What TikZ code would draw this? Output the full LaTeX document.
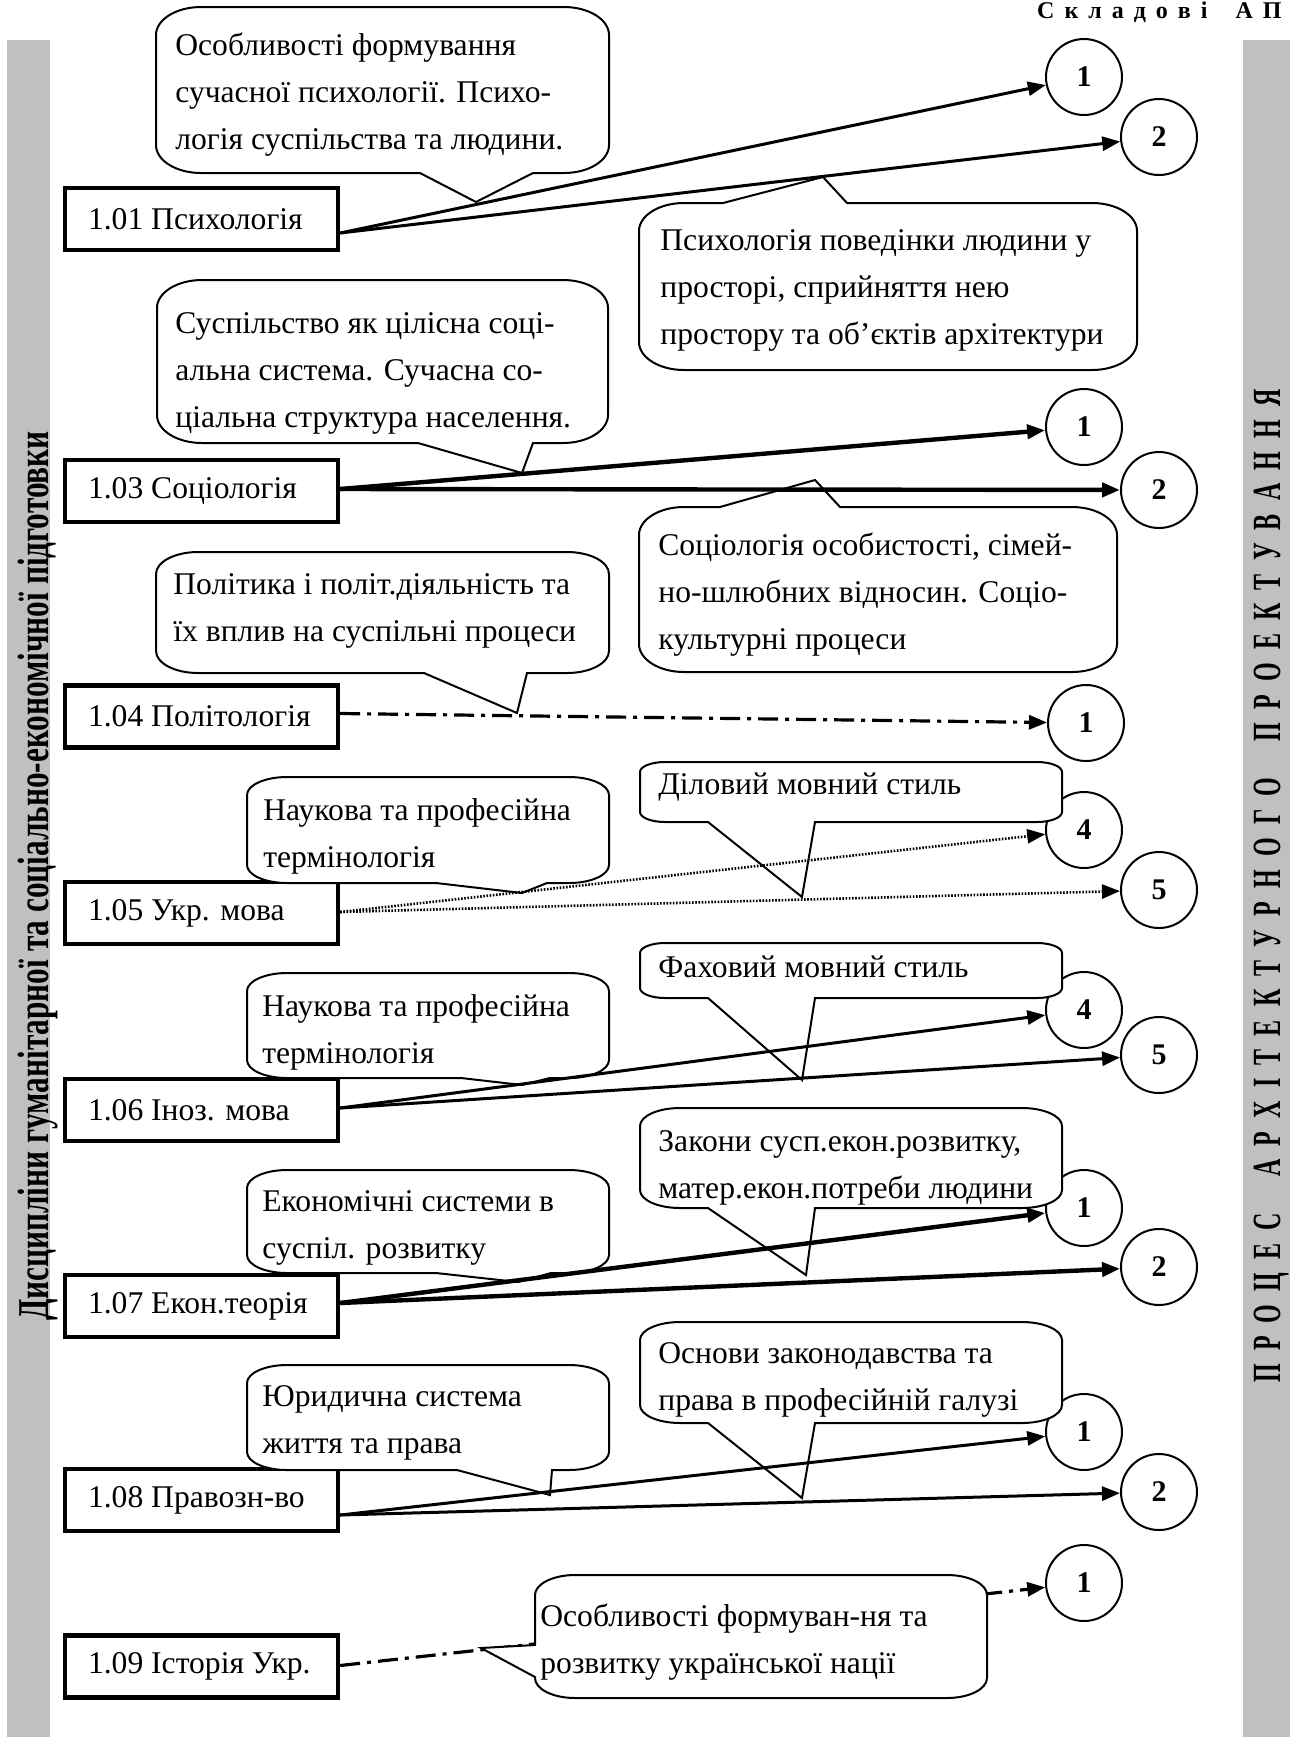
\documentclass[tikz,border=0pt]{standalone}
\usepackage{fontspec}
\setmainfont{Liberation Serif}
\newfontfamily\condA[FakeStretch=0.71]{Liberation Serif}
\newfontfamily\condB[FakeStretch=0.6]{Liberation Serif}
\usetikzlibrary{arrows.meta,calc}
\definecolor{barcol}{RGB}{192,192,192}
\newcommand\bodyfont{\fontsize{15.8}{23.5}\selectfont}
\newcommand\gapL{\hspace{6.6pt}}
\newcommand\gapW{\hspace{18pt}}
\newcommand\hg{\hspace{5pt}}
% #1 x1, #2 y1, #3 x2, #4 y2, #5 rx, #6 ry, #7 top wedge, #8 bottom wedge, #9 left wedge
\newcommand\bubble[9]{%
  \filldraw[bub] ({#1+#5},#2) #7 -- ({#3-#5},#2)
    .. controls ({#3-0.448*#5},#2) and (#3,{#2+0.448*#6}) .. (#3,{#2+#6})
    -- (#3,{#4-#6})
    .. controls (#3,{#4-0.448*#6}) and ({#3-0.448*#5},#4) .. ({#3-#5},#4)
    #8 -- ({#1+#5},#4)
    .. controls ({#1+0.448*#5},#4) and (#1,{#4-0.448*#6}) .. (#1,{#4-#6})
    #9 -- (#1,{#2+#6})
    .. controls (#1,{#2+0.448*#6}) and ({#1+0.448*#5},#2) .. ({#1+#5},#2) -- cycle;}
\tikzset{
  dbox/.style={draw, line width=2.2pt, minimum width=136.5pt, minimum height=31pt,
    inner xsep=11.5pt, inner ysep=0pt, font=\bodyfont},
  num/.style={circle, draw, line width=1pt, minimum size=38pt, inner sep=0pt,
    font=\bfseries\fontsize{15}{15}\selectfont},
  bub/.style={draw, fill=white, line width=1pt, line join=miter},
  ctext/.style={anchor=west, align=left, inner sep=0pt, font=\bodyfont},
  tipA/.style={-{Triangle[length=9pt,width=7pt]}},
  arr/.style={tipA, line width=1.5pt},
  arrb/.style={tipA, line width=2.2pt},
  arrdot/.style={tipA, line width=1.3pt, dash pattern=on 0.8pt off 0.8pt},
  arrdd/.style={tipA, line width=1.6pt, dash pattern=on 10pt off 3.5pt on 2pt off 3.5pt},
}
\begin{document}
\begin{tikzpicture}[x=0.5pt,y=-0.5pt]
\useasboundingbox (0,0) rectangle (1290,1737);
\fill[white] (0,0) rectangle (1290,1737);
% side bars
\fill[barcol] (7,40) rectangle (50,1737);
\fill[barcol] (1243,40) rectangle (1290,1737);
\node[rotate=90, anchor=base, inner sep=0pt, font=\condA\bfseries\fontsize{22}{22}\selectfont] (vl) at (48,876)
  {Дисципліни гуманітарної та соціально-економічної підготовки};
\node[rotate=90, anchor=base, inner sep=0pt, font=\condB\bfseries\fontsize{20}{20}\selectfont] (vr) at (1280,886)
  {П\gapL Р\gapL О\gapL Ц\gapL Е\gapL С\gapW А\gapL Р\gapL Х\gapL І\gapL Т\gapL Е\gapL К\gapL Т\gapL У\gapL Р\gapL Н\gapL О\gapL Г\gapL О\gapW П\gapL Р\gapL О\gapL Е\gapL К\gapL Т\gapL У\gapL В\gapL А\gapL Н\gapL Н\gapL Я};
% header
\node[anchor=base east, inner sep=0pt, font=\bfseries\fontsize{12}{14}\selectfont] (hdr) at (1282,18)
  {С\hg к\hg л\hg а\hg д\hg о\hg в\hg і\hspace{14pt}А\hg П};
% circles
\node[num] (c11) at (1084,77) {1};
\node[num] (c12) at (1159,137) {2};
\node[num] (c31) at (1084,427) {1};
\node[num] (c32) at (1159,490) {2};
\node[num] (c41) at (1086,723) {1};
\node[num] (c54) at (1084,830) {4};
\node[num] (c55) at (1159,890) {5};
\node[num] (c64) at (1084,1010) {4};
\node[num] (c65) at (1159,1055) {5};
\node[num] (c71) at (1084,1208) {1};
\node[num] (c72) at (1159,1267) {2};
\node[num] (c81) at (1084,1432) {1};
\node[num] (c82) at (1159,1492) {2};
\node[num] (c91) at (1084,1583) {1};
% discipline boxes
\node[dbox] (b101) at (201.5,219) {\makebox[113.5pt][l]{1.01 Психологія}};
\node[dbox] (b103) at (201.5,491) {\makebox[113.5pt][l]{1.03 Соціологія}};
\node[dbox] (b104) at (201.5,716.5) {\makebox[113.5pt][l]{1.04 Політологія}};
\node[dbox] (b105) at (201.5,913) {\makebox[113.5pt][l]{1.05 Укр. мова}};
\node[dbox] (b106) at (201.5,1110) {\makebox[113.5pt][l]{1.06 Іноз. мова}};
\node[dbox] (b107) at (201.5,1306) {\makebox[113.5pt][l]{1.07 Екон.теорія}};
\node[dbox] (b108) at (201.5,1500) {\makebox[113.5pt][l]{1.08 Правозн-во}};
\node[dbox] (b109) at (201.5,1666.5) {\makebox[113.5pt][l]{1.09 Історія Укр.}};
% callouts
\bubble{156}{7}{609}{173}{45}{28}{}{-- (533,173) -- (476,202) -- (420,173)}{}
\node[ctext] (t1) at (175,95) {Особливості формування\\сучасної психології. Психо-\\логія суспільства та людини.};
\bubble{639}{203}{1137}{370}{45}{28}{-- (723,203) -- (823,177) -- (847,203)}{}{}
\node[ctext] (t2) at (660,290) {Психологія поведінки людини у\\просторі, сприйняття нею\\простору та об’єктів архітектури};
\bubble{157}{280}{608}{443}{45}{28}{}{-- (533,443) -- (522,473) -- (418,443)}{}
\node[ctext] (t3) at (175,373) {Суспільство як цілісна соці-\\альна система. Сучасна со-\\ціальна структура населення.};
\bubble{639}{507}{1117}{672}{45}{28}{-- (720,507) -- (815,480) -- (840,507)}{}{}
\node[ctext] (t4) at (658,595) {Соціологія особистості, сімей-\\но-шлюбних відносин. Соціо-\\культурні процеси};
\bubble{156}{552}{609}{673}{42}{22}{}{-- (527,673) -- (517,713) -- (424,673)}{}
\node[ctext] (t5) at (173,611) {Політика і політ.діяльність та\\їх вплив на суспільні процеси};
\bubble{247}{777}{609}{883}{40}{18}{}{-- (547,883) -- (522,893) -- (436,883)}{}
\node[ctext] (t6) at (263,836) {Наукова та професійна\\термінологія};
\bubble{640}{762}{1062}{822}{25}{10}{}{-- (815,822) -- (802,897) -- (708,822)}{}
\node[ctext] (t7) at (658,787) {Діловий мовний стиль};
\bubble{247}{973}{609}{1078}{40}{18}{}{-- (550,1078) -- (522,1085) -- (461,1078)}{}
\node[ctext] (t8) at (262,1032) {Наукова та професійна\\термінологія};
\bubble{640}{943}{1062}{998}{25}{10}{}{-- (815,998) -- (802,1080) -- (708,998)}{}
\node[ctext] (t9) at (658,967) {Фаховий мовний стиль};
\bubble{247}{1170}{609}{1273}{40}{18}{}{-- (551,1273) -- (518,1282) -- (436,1273)}{}
\node[ctext] (t10) at (262,1228) {Економічні системи в\\суспіл. розвитку};
\bubble{640}{1108}{1062}{1208}{40}{18}{}{-- (815,1208) -- (806,1275) -- (708,1208)}{}
\node[ctext] (t11) at (658,1168) {Закони сусп.екон.розвитку,\\матер.екон.потреби людини};
\bubble{247}{1365}{609}{1470}{40}{18}{}{-- (552,1470) -- (550,1495) -- (457,1470)}{}
\node[ctext] (t12) at (262,1423) {Юридична система\\життя та права};
\bubble{640}{1322}{1062}{1423}{40}{18}{}{-- (815,1423) -- (802,1498) -- (708,1423)}{}
\node[ctext] (t13) at (658,1380) {Основи законодавства та\\права в професійній галузі};
% connectors
\coordinate (s101) at ($(b101.east)+(0,14)$);
\draw[arr] (s101) -- (c11);
\draw[arr] (s101) -- (c12);
\coordinate (s103) at ($(b103.east)+(0,-2)$);
\draw[arrb] (s103) -- (c31);
\draw[arrb] (s103) -- (c32);
\coordinate (s104) at ($(b104.east)+(0,-3)$);
\draw[arrdd] (s104) -- (c41);
\coordinate (s105) at ($(b105.east)+(0,-1)$);
\draw[arrdot] (s105) -- (c54);
\draw[arrdot] (s105) -- (c55);
\coordinate (s106) at ($(b106.east)+(0,-2)$);
\draw[arr] (s106) -- (c64);
\draw[arr] (s106) -- (c65);
\coordinate (s107) at ($(b107.east)+(0,-3)$);
\draw[arrb] (s107) -- (c71);
\draw[arrb] (s107) -- (c72);
\coordinate (s108) at ($(b108.east)+(0,15)$);
\draw[arr] (s108) -- (c81);
\draw[arr] (s108) -- (c82);
\coordinate (s109) at ($(b109.east)+(0,-1)$);
\draw[arrdd] (s109) -- (c91);
% last callout covers the dash-dot line
\bubble{535}{1575}{987}{1698}{40}{20}{}{}{-- (535,1677) -- (481,1648) -- (535,1645)}
\node[ctext] (t14) at (540,1642) {Особливості формуван-ня та\\розвитку української нації};
\end{tikzpicture}
\end{document}
